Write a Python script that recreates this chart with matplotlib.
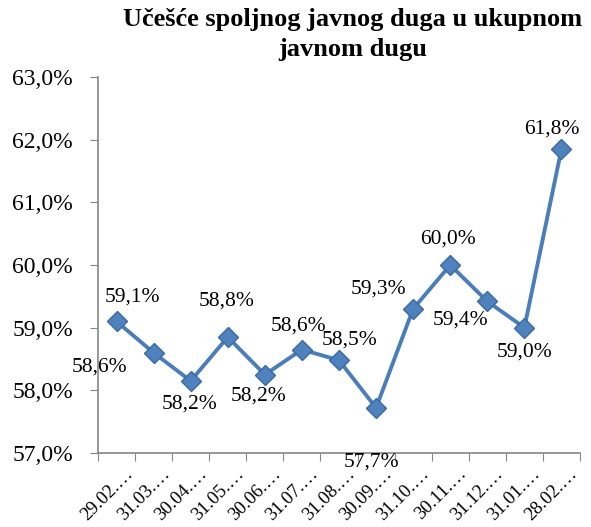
import matplotlib.pyplot as plt
import matplotlib.transforms as mtransforms
from matplotlib.ticker import FuncFormatter

plt.rcParams['font.family'] = ['Liberation Serif', 'DejaVu Serif']

dates = ['29.02.', '31.03.', '30.04.', '31.05.', '30.06.', '31.07.', '31.08.',
         '30.09.', '31.10.', '30.11.', '31.12.', '31.01.', '28.02.']
shares = [59.1, 58.6, 58.15, 58.85, 58.25, 58.65, 58.48, 57.72, 59.3, 60.0, 59.42, 59.0, 61.85]
labels = ['59,1%', '58,6%', '58,2%', '58,8%', '58,2%', '58,6%', '58,5%',
          '57,7%', '59,3%', '60,0%', '59,4%', '59,0%', '61,8%']
# label offsets in pixels (dx, dy) from the point
offsets = [(16, 24), (-54, -14), (-1, -23), (-1, 36), (-6, -21), (-3, 24), (11, 20),
           (-5, -54), (-35, 20), (-2, 26), (-27, -19), (0, -24), (-10, 20)]

fig = plt.figure(figsize=(5.91, 5.27), dpi=100)
ax = fig.add_axes([98 / 591, 1 - 453 / 527, 482 / 591, 376 / 527])

x = list(range(len(dates)))
ax.plot(x, shares, color='#4a7ebb', lw=2.8, marker='D', ms=10,
        markerfacecolor='#4f81bd', markeredgecolor='#3a6aa5', markeredgewidth=1, zorder=3)

for xi, yi, lab, (dx, dy) in zip(x, shares, labels, offsets):
    ax.annotate(lab, (xi, yi), xytext=(dx, dy), textcoords='offset pixels',
                ha='center', va='center', fontsize=15.5)

ax.set_xlim(-0.5, len(dates) - 0.5)
ax.set_ylim(57, 63)
ax.set_yticks([57, 58, 59, 60, 61, 62, 63])
ax.yaxis.set_major_formatter(FuncFormatter(lambda v, p: f'{v:.1f}%'.replace('.', ',')))
ax.set_xticks([i - 0.5 for i in range(len(dates) + 1)])
ax.set_xticklabels([])
ax.set_xticks(x, minor=True)
ax.set_xticklabels([d + '\u2026' for d in dates], minor=True, rotation=45,
                   ha='right', va='center_baseline', rotation_mode='anchor', fontsize=13.5)
ax.tick_params(axis='x', which='minor', length=0, pad=12)
ax.tick_params(axis='x', which='major', length=6, color='#868686', direction='out')
ax.tick_params(axis='y', length=6, color='#868686', labelsize=17, pad=12)

shift = mtransforms.ScaledTranslation(12 / 100, 0, fig.dpi_scale_trans)
for t in ax.get_xticklabels(minor=True):
    t.set_transform(t.get_transform() + shift)

for s in ['top', 'right']:
    ax.spines[s].set_visible(False)
for s in ['left', 'bottom']:
    ax.spines[s].set_color('#868686')
    ax.spines[s].set_linewidth(1.2)

fig.text(353 / 591, 1 - 8 / 527, 'Učešće spoljnog javnog duga u ukupnom\njavnom dugu',
         ha='center', va='top', fontsize=19, fontweight='bold', linespacing=1.4)

fig.savefig('out.png', dpi=100)
